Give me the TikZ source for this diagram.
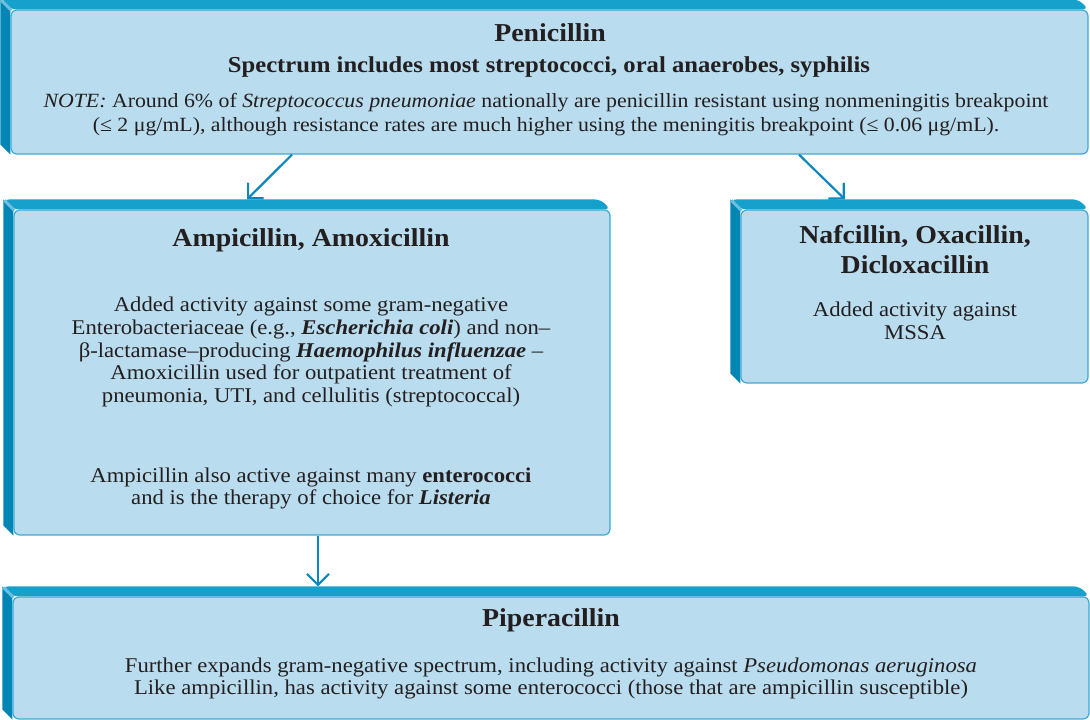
\documentclass[tikz,border=0pt]{standalone}
\usepackage{fontspec}
\setmainfont{Liberation Serif}[FakeStretch=1.08]
\usetikzlibrary{positioning,arrows.meta,backgrounds}
\definecolor{face}{RGB}{185,220,238}
\definecolor{edge}{RGB}{62,170,212}
\definecolor{topb}{RGB}{22,160,204}
\definecolor{leftb}{RGB}{0,133,181}
\definecolor{bevel}{RGB}{110,190,224}
\definecolor{arr}{RGB}{12,135,190}
\definecolor{ink}{RGB}{35,31,32}
\newcommand\bfit[1]{\textbf{\textit{#1}}}

\begin{document}
\begin{tikzpicture}[x=1pt,y=-1pt,>={Straight Barb[length=11pt,width=22pt]},
  face/.style={draw=edge,line width=1.2pt,fill=face,rounded corners=6pt,inner sep=0pt},
  ttl/.style={font=\fontsize{25.8}{30}\selectfont\bfseries,text=ink,align=center},
  sub/.style={font=\fontsize{22.8}{26}\selectfont\bfseries,text=ink},
  note/.style={font=\fontsize{20.2}{24}\selectfont,text=ink,align=center},
  txt/.style={font=\fontsize{21}{22.8}\selectfont,text=ink,align=center},
  link/.style={->,arr,line width=2.2pt}]
  \useasboundingbox (0,0) rectangle (1090,720);
  % front faces of the boxes
  \node[face,minimum width=1077pt,minimum height=144pt] (pen) at (549.5,82) {};
  \node[face,minimum width=596pt,minimum height=325pt] (amp) at (312,372.5) {};
  \node[face,minimum width=347pt,minimum height=173pt] (naf) at (914.5,296.5) {};
  \node[face,minimum width=1076pt,minimum height=122pt] (pip) at (551,658) {};
  % top and left bands behind each face
  \begin{scope}[on background layer]
    \foreach \nm in {pen,amp,naf,pip}{
      \fill[topb,rounded corners=6pt] (\nm.north west) -- ++(-10,-10)
        -- ([shift={(-10,-10)}]\nm.north east) -- (\nm.north east) -- cycle;
      \fill[leftb] (\nm.north west) -- ++(-10,-10)
        -- ([shift={(-10,-10)}]\nm.south west) -- (\nm.south west) -- cycle;
      \draw[bevel,line width=3pt] ([shift={(1,1)}]\nm.north west) -- ++(-10,-10);
    }
  \end{scope}
  % texts
  \node[ttl] (penT) at (550,33) {Penicillin};
  \node[sub] (penS) at (549,67) {Spectrum includes most streptococci, oral anaerobes, syphilis};
  \node[note] (penN) at (546,115) {\textit{NOTE:} Around 6\% of \textit{Streptococcus pneumoniae} nationally are penicillin resistant using nonmeningitis breakpoint\\
    (≤ 2 μg/mL), although resistance rates are much higher using the meningitis breakpoint (≤ 0.06 μg/mL).};
  \node[ttl] (ampT) at (311,240) {Ampicillin, Amoxicillin};
  \node[txt] (ampA) at (311,352) {Added activity against some gram-negative\\
    Enterobacteriaceae (e.g., \bfit{Escherichia coli}) and non–\\
    β-lactamase–producing \bfit{Haemophilus influenzae} –\\
    Amoxicillin used for outpatient treatment of\\
    pneumonia, UTI, and cellulitis (streptococcal)};
  \node[txt] (ampB) at (311,488.5) {Ampicillin also active against many \textbf{enterococci}\\
    and is the therapy of choice for \bfit{Listeria}};
  \node[ttl] (nafT) at (915,250) {Nafcillin, Oxacillin,\\Dicloxacillin};
  \node[txt] (nafA) at (915,320.5) {Added activity against\\MSSA};
  \node[ttl] (pipT) at (551,620) {Piperacillin};
  \node[txt] (pipA) at (551,678.5) {Further expands gram-negative spectrum, including activity against \textit{Pseudomonas aeruginosa}\\
    Like ampicillin, has activity against some enterococci (those that are ampicillin susceptible)};
  % connectors
  \draw[link] ([xshift=-257.5pt]pen.south) -- ([xshift=-65pt,yshift=10pt]amp.north);
  \draw[link] ([xshift=249.5pt]pen.south) -- ([xshift=-69.5pt,yshift=10pt]naf.north);
  \draw[link] ([xshift=6pt]amp.south) -- ([xshift=-233pt,yshift=10pt]pip.north);
\end{tikzpicture}
\end{document}
